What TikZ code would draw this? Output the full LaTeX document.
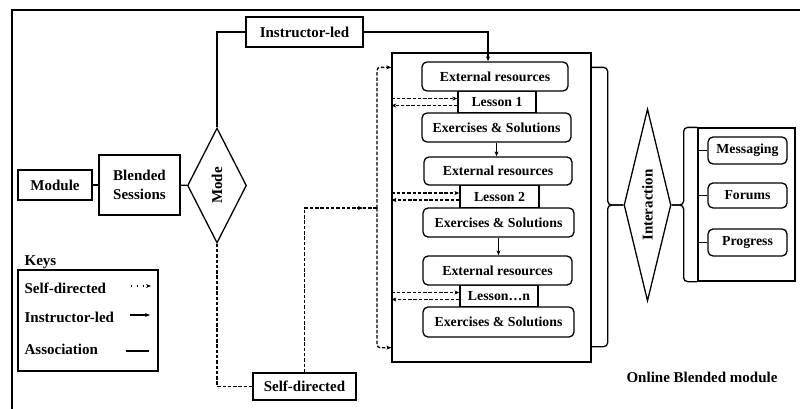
\documentclass[tikz,border=0pt]{standalone}
\usepackage{fontspec}
\setmainfont{Liberation Serif}
\usetikzlibrary{shapes.geometric,arrows.meta,decorations.markings}

\newcommand\bigtxt{\bfseries\fontsize{15}{17}\selectfont}
\newcommand\smalltxt{\bfseries\fontsize{13.8}{15}\selectfont}

\begin{document}
\begin{tikzpicture}[x=1pt,y=-1pt,line width=1.3pt,
    box/.style={draw,inner sep=0pt,font=\bigtxt},
    rbox/.style={draw,rounded corners=5pt,inner sep=0pt,font=\smalltxt},
    lbox/.style={draw,inner sep=0pt,font=\smalltxt},
    decide/.style={draw,diamond,inner sep=0pt,font=\bigtxt},
    sd/.style={dash pattern=on 3.5pt off 1.8pt},
    >={Stealth[length=5pt,width=4pt]}]
\useasboundingbox (0,0) rectangle (800,408);
\clip (0,0) rectangle (800,408);
% frame
\draw[line width=2pt] (12,420) -- (12,10) -- (810,10);

% left side
\node[box,minimum width=74pt,minimum height=30pt] (module) at (55,185) {Module};
\node[box,minimum width=81pt,minimum height=60pt,align=center] (blended) at (139.5,185) {Blended\\[2pt]Sessions};
\node[decide,aspect=0.5,minimum width=59pt,minimum height=115pt] (mode) at (217,185.5) {\rotatebox{90}{Mode}};
\node[box,minimum width=117pt,minimum height=30pt] (instr) at (304.5,32) {Instructor-led};
\node[box,minimum width=103pt,minimum height=27pt] (selfd) at (304.5,386.5) {Self-directed};

% lessons
\node[draw,minimum width=199pt,minimum height=309pt,inner sep=0pt] (container) at (491.5,207.5) {};
\node[lbox,minimum width=78pt,minimum height=22pt] (les1) at (497,102) {Lesson 1};
\node[lbox,minimum width=79pt,minimum height=23pt] (les2) at (499.5,196.5) {Lesson 2};
\node[lbox,minimum width=78pt,minimum height=22pt] (lesn) at (499,296) {Lesson\ldots n};
\node[rbox,minimum width=146pt,minimum height=29pt,fill=white] (ext1) at (495,76.5) {External resources};
\node[rbox,minimum width=149pt,minimum height=29pt,fill=white] (exr1) at (496.5,127.5) {Exercises \& Solutions};
\node[rbox,minimum width=148pt,minimum height=28pt,fill=white] (ext2) at (498,171) {External resources};
\node[rbox,minimum width=151pt,minimum height=29pt,fill=white] (exr2) at (498.5,222.5) {Exercises \& Solutions};
\node[rbox,minimum width=149pt,minimum height=29pt,fill=white] (ext3) at (497.5,270.5) {External resources};
\node[rbox,minimum width=151pt,minimum height=30pt,fill=white] (exr3) at (498.5,322) {Exercises \& Solutions};

% interaction
\node[decide,aspect=0.25,minimum width=47pt,minimum height=192pt] (inter) at (647.5,205) {\rotatebox{90}{Interaction}};
\node[draw,minimum width=97pt,minimum height=153pt,inner sep=0pt] (tools) at (746.5,204.5) {};
\node[rbox,minimum width=79pt,minimum height=27pt] (msg) at (747.5,150.5) {Messaging};
\node[rbox,minimum width=79pt,minimum height=25pt] (forum) at (747.5,195.5) {Forums};
\node[rbox,minimum width=79pt,minimum height=27pt] (prog) at (747.5,242.5) {Progress};

\node[font=\bigtxt] (online) at (702,377) {Online Blended module};

% keys
\node[font=\bigtxt,anchor=west,inner sep=0pt] (keyhead) at (24,262) {Keys};
\node[draw,minimum width=140pt,minimum height=101pt,inner sep=0pt] (keys) at (88,320.5) {};
\node[font=\bigtxt,anchor=west,inner sep=0pt] (ksd) at (24,288) {Self-directed};
\node[font=\bigtxt,anchor=west,inner sep=0pt] (kil) at (24,317) {Instructor-led};
\node[font=\bigtxt,anchor=west,inner sep=0pt] (kas) at (24,349) {Association};
\coordinate (ksda) at (131,286);
\coordinate (ksdb) at (151,286);
\coordinate (kila) at (130,315);
\coordinate (kilb) at (150,315);
\coordinate (kasa) at (126,351);
\coordinate (kasb) at (149,351);
\draw[dash pattern=on 1.3pt off 4.5pt,->] (ksda) -- (ksdb);
\draw[->] (kila) -- (kilb);
\draw (kasa) -- (kasb);

% associations
\draw (module) -- (blended);
\draw (blended) -- (mode);
\draw (mode.north) |- (instr.west);
\draw[->] (instr.east) -| ([xshift=-7pt]ext1.north);
\draw[sd] (mode.south) |- (selfd.west);

% self-directed paths
\coordinate (trunk) at (377,208);
\draw[sd,decoration={markings,mark=at position -14pt with {\arrow{>}}},postaction={decorate}] (selfd.north) |- (trunk);
\draw[sd,->,rounded corners=3pt] (trunk) |- ([yshift=-15pt]container.north west);
\draw[sd,->,rounded corners=3pt] (trunk) |- ([yshift=15pt]container.south west);
\foreach \n in {les1,les2,lesn} {
  \path ([yshift=3.5pt]\n.west) coordinate (\n in) ([yshift=-3.5pt]\n.west) coordinate (\n out);
  \draw[sd,->] (\n in -| container.west) -- (\n in);
  \draw[sd,->] (\n out) -- (\n out -| container.west);
}
\draw[->] (exr1.south) -- (exr1.south |- ext2.north);
\draw[->] (exr2.south) -- (exr2.south |- ext3.north);

% braces
\draw[rounded corners=4pt] ([yshift=-15pt]container.north east) -- ++(16,0) |- (inter.west);
\draw[rounded corners=4pt] ([yshift=16pt]container.south east) -- ++(16,0) |- (inter.west);
\draw[rounded corners=4pt] (inter.east) -- ++(12,0) |- (tools.north west);
\draw[rounded corners=4pt] (inter.east) -- ++(12,0) |- (tools.south west);
\foreach \t in {msg,forum,prog}
  \draw (tools.west |- \t) -- (\t.west);
\end{tikzpicture}
\end{document}
